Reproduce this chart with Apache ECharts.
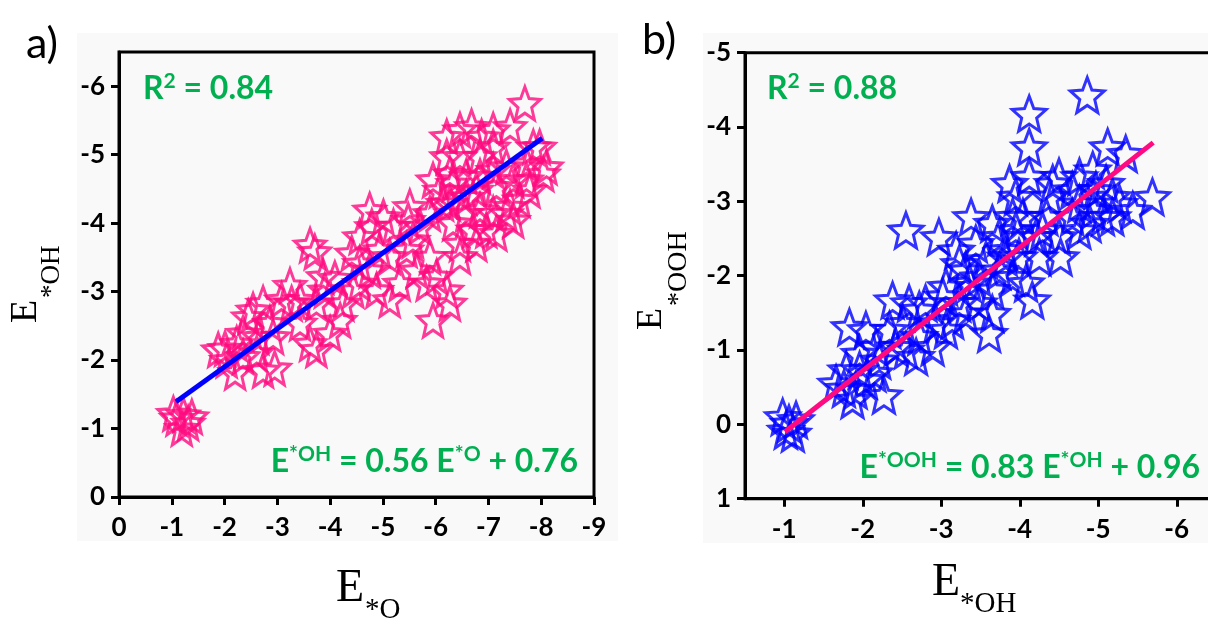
<!DOCTYPE html>
<html><head><meta charset="utf-8">
<script src="https://cdn.jsdelivr.net/npm/echarts@6/dist/echarts.min.js"></script>
<style>html,body{margin:0;padding:0;background:#fff}#c{width:1208px;height:619px}</style>
</head><body><div id="c"></div>
<script>
// ---------- data: panel a (E*O vs E*OH) ----------
const aO = [-1.09,-1.22,-1.38,-1.19,-1.31,-1.03,
 -2.01,-2.20,-2.35,-2.61,-2.73,-2.95,-2.45,-2.35,-2.73,-2.64,-2.92,-2.86,-3.24,-3.08,
 -3.27,-3.43,-3.43,-3.62,-3.74,-4.00,-3.74,-3.90,-4.09,-4.25,-4.19,-3.62,-3.71,-3.87,
 -4.41,-4.56,-4.75,-4.79,-5.01,-5.20,-5.51,-5.48,-5.45,-5.13,-4.75,-4.56,-4.88,-5.13,
 -5.32,-5.64,-5.89,-6.02,-6.21,-6.27,-5.95,-5.83,-5.70,-5.89,-6.14,-6.33,-6.46,-6.46,
 -6.71,-6.77,-6.96,-7.15,-7.34,-7.47,-7.09,-6.84,-6.58,-6.27,-6.08,-5.95,-6.33,-6.58,
 -4.94,-4.56,-4.44,-5.57,-6.21,-6.46,-6.68,-6.87,-7.09,-6.21,-6.46,-6.84,-7.09,-7.41,
 -7.69,-7.97,-8.04,-7.72,-7.72,-7.47,-7.34,-7.09,-6.84,-6.58,-6.27,-7.78,-7.59,-7.41,
 -7.85,-8.10,-7.15,-6.77,-1.88,-2.04,-2.23,-2.54];
const aOH = [-1.15,-1.20,-1.17,-1.00,-1.08,-1.22,
 -2.17,-1.82,-2.05,-2.10,-1.85,-1.88,-2.63,-2.39,-2.83,-2.34,-2.34,-2.54,-3.09,-2.88,
 -2.83,-2.88,-2.54,-2.24,-2.15,-2.39,-2.83,-3.02,-3.19,-2.83,-2.58,-3.68,-3.58,-3.22,
 -3.56,-3.80,-4.19,-3.95,-4.09,-3.95,-4.24,-4.04,-3.61,-3.51,-3.31,-3.12,-3.02,-2.88,
 -3.12,-3.31,-3.51,-3.22,-3.02,-2.83,-2.58,-3.12,-3.95,-4.14,-4.29,-4.00,-3.51,-3.70,
 -3.90,-3.70,-3.90,-3.85,-4.14,-4.04,-4.14,-4.19,-4.14,-4.29,-4.48,-4.63,-4.58,-4.38,
 -3.61,-3.41,-3.02,-3.75,-5.26,-5.36,-5.41,-5.26,-5.36,-4.97,-4.97,-4.97,-5.11,-5.41,
 -5.75,-5.11,-4.72,-4.63,-4.87,-4.63,-4.82,-4.77,-4.68,-4.68,-4.72,-4.48,-4.34,-4.24,
 -5.11,-4.82,-4.53,-4.48,-2.15,-2.00,-2.24,-2.73];
const aFitO = [-1.08, -8.02];
const aFitOH = [-1.39, -5.24];

// ---------- data: panel b (E*OH vs E*OOH) ----------
const bOH = [-0.98,-1.06,-1.11,-1.02,-1.15,
 -1.76,-1.91,-1.96,-2.04,-2.27,-2.15,-1.83,-2.04,-1.96,-2.17,-2.38,-2.59,-2.34,-2.51,-2.55,
 -2.68,-2.72,-2.89,-2.93,-2.80,-3.02,-3.14,-3.23,-3.61,-3.65,-3.36,-3.48,-3.65,-3.74,-3.91,
 -4.16,-4.08,-2.97,-3.19,-3.38,-2.55,-3.44,-3.57,-3.74,-3.82,-3.95,-4.04,-3.95,-3.87,-4.12,
 -4.12,-4.12,-4.86,-4.25,-4.21,-4.34,-4.38,-4.50,-4.52,-4.50,-4.67,-4.76,-4.93,-5.06,-5.27,
 -5.10,-4.93,-4.76,-5.12,-5.35,-5.18,-5.44,-5.69,-4.42,-4.29,-3.91,-3.65,-3.31,-3.23,-3.06,
 -2.72,-3.48,-3.82,-3.99,-4.67,-4.97,-4.89,-5.18,-4.76,-3.06,-3.31,-2.42,-2.21,-1.79,-1.66,-1.87];
const bOOH = [-0.10,-0.01,0.12,0.08,-0.06,
 -0.48,-0.46,-0.73,-0.60,-0.39,-0.69,-1.31,-1.27,-0.95,-1.04,-1.67,-1.63,-1.27,-1.36,-1.00,
 -0.91,-1.18,-1.04,-1.36,-1.63,-1.72,-1.40,-1.63,-1.22,-1.49,-1.90,-1.98,-1.81,-2.07,-1.98,
 -1.67,-1.90,-2.52,-2.34,-2.79,-2.61,-2.43,-2.21,-2.52,-2.34,-2.61,-2.79,-3.06,-3.24,-3.33,
 -3.73,-4.18,-4.43,-2.25,-2.52,-2.79,-3.06,-3.33,-2.25,-2.52,-2.79,-2.97,-2.88,-2.79,-2.97,
 -3.24,-3.42,-3.33,-3.73,-3.64,-3.06,-2.88,-3.06,-3.24,-2.61,-2.79,-2.70,-2.07,-2.16,-1.85,
 -1.54,-1.63,-2.25,-2.25,-3.15,-3.15,-2.70,-2.79,-2.61,-1.27,-1.49,-1.04,-0.86,-0.73,-0.55,-0.33];
const bFitOH = [-1.01, -5.70];
const bFitOOH = [0.10, -3.79];

// ---------- tick labels ----------
const aXTicks = [0,-1,-2,-3,-4,-5,-6,-7,-8,-9];
const aYTicks = [0,-1,-2,-3,-4,-5,-6];
const bXTicks = [-1,-2,-3,-4,-5,-6];
const bYTicks = [1,0,-1,-2,-3,-4,-5];

const zip = (xs, ys) => xs.map((x, i) => [x, ys[i]]);

function starPath(ratio) {
  let d = '';
  for (let k = 0; k < 10; k++) {
    const a = (-90 + 36 * k) * Math.PI / 180;
    const r = k % 2 ? ratio : 1;
    d += (k ? 'L' : 'M') + (r * Math.cos(a) * 50).toFixed(2) + ' ' + (r * Math.sin(a) * 50).toFixed(2) + ' ';
  }
  return 'path://' + d + 'Z';
}
const STAR = starPath(0.44);
const PINK = '#ff0a80', BLUE = '#0000ff', GREEN = '#00b050';
const LBL = { color: '#000', fontFamily: 'Lato', fontWeight: 'bold', fontSize: 26 };

function axis(min, max, ticks, isX) {
  return {
    type: 'value', min: min, max: max, inverse: true,
    axisLine: { show: true, onZero: false, lineStyle: { color: '#000', width: 3 } },
    axisTick: { show: true, inside: false, length: 8, lineStyle: { color: '#000', width: 3 }, customValues: ticks },
    axisLabel: Object.assign({ customValues: ticks, margin: isX ? 18 : 14 }, LBL),
    splitLine: { show: false }
  };
}

const chart = echarts.init(document.getElementById('c'), null, { renderer: 'canvas' });

function serifTitle(x, y, main, sub, fsMain, fsSub, subDx, subDy, rot) {
  return {
    type: 'group', x: x, y: y, rotation: rot || 0, z: 10,
    children: [
      { type: 'text', x: 0, y: -0.305 * fsMain,
        style: { text: main, fontFamily: 'Liberation Serif', fontSize: fsMain, fill: '#000', align: 'left', verticalAlign: 'middle' } },
      { type: 'text', x: subDx, y: subDy - 0.305 * fsSub,
        style: { text: sub, fontFamily: 'Liberation Serif', fontSize: fsSub, fill: '#000', align: 'left', verticalAlign: 'middle' } }
    ]
  };
}

function greenText(x, y, text, align) {
  return {
    type: 'text', x: x, y: y, z: 10,
    style: {
      text: text, fill: GREEN, fontFamily: 'Lato', fontWeight: 'bold', fontSize: 32, lineHeight: 36,
      align: align, verticalAlign: 'middle',
      rich: { s: { fontFamily: 'Lato', fontWeight: 'bold', fontSize: 21, fill: GREEN, verticalAlign: 'top' } }
    }
  };
}

chart.setOption({
  animation: false,
  backgroundColor: '#ffffff',
  grid: [
    { left: 119, top: 52, width: 475, height: 445, show: true, borderColor: '#000', borderWidth: 3, backgroundColor: 'transparent', containLabel: false, outerBoundsMode: 'none' },
    { left: 745, top: 52.7, width: 471, height: 446, show: true, borderColor: '#000', borderWidth: 3, backgroundColor: 'transparent', containLabel: false, outerBoundsMode: 'none' }
  ],
  xAxis: [
    Object.assign(axis(-9, 0, aXTicks, true), { gridIndex: 0, interval: 1 }),
    Object.assign(axis(-6.5, -0.5, bXTicks, true), { gridIndex: 1 })
  ],
  yAxis: [
    Object.assign(axis(-6.5, 0, aYTicks, false), { gridIndex: 0 }),
    Object.assign(axis(-5, 1, bYTicks, false), { gridIndex: 1, interval: 1 })
  ],
  series: [
    { type: 'scatter', xAxisIndex: 0, yAxisIndex: 0, data: zip(aO, aOH), symbol: STAR, symbolSize: [31, 33],
      itemStyle: { color: 'rgba(0,0,0,0)', borderColor: PINK, borderWidth: 3, borderJoin: 'miter', borderMiterLimit: 4 },
      emphasis: { disabled: true }, silent: true, z: 2 },
    { type: 'line', xAxisIndex: 0, yAxisIndex: 0, data: zip(aFitO, aFitOH), symbol: 'none',
      lineStyle: { color: BLUE, width: 5 }, silent: true, z: 3 },
    { type: 'scatter', xAxisIndex: 1, yAxisIndex: 1, data: zip(bOH, bOOH), symbol: STAR, symbolSize: [34, 35],
      itemStyle: { color: 'rgba(0,0,0,0)', borderColor: BLUE, borderWidth: 3, borderJoin: 'miter', borderMiterLimit: 4 },
      emphasis: { disabled: true }, silent: true, z: 2 },
    { type: 'line', xAxisIndex: 1, yAxisIndex: 1, data: zip(bFitOH, bFitOOH), symbol: 'none',
      lineStyle: { color: PINK, width: 5 }, silent: true, z: 3 }
  ],
  graphic: [
    { type: 'rect', z: -10, shape: { x: 77, y: 33, width: 541, height: 508 }, style: { fill: '#f9f9f9' } },
    { type: 'rect', z: -10, shape: { x: 703, y: 33, width: 505, height: 510 }, style: { fill: '#f9f9f9' } },
    { type: 'text', x: 26, y: 44, z: 10, style: { text: 'a)', fontFamily: 'Lato', fontSize: 43, fill: '#000', align: 'left', verticalAlign: 'middle' } },
    { type: 'text', x: 642, y: 40, z: 10, style: { text: 'b)', fontFamily: 'Lato', fontSize: 43, fill: '#000', align: 'left', verticalAlign: 'middle' } },
    greenText(143, 89, 'R{s|2} = 0.84', 'left'),
    greenText(767, 89, 'R{s|2} = 0.88', 'left'),
    greenText(578, 462, 'E{s|*OH} = 0.56 E{s|*O} + 0.76', 'right'),
    greenText(1200, 468, 'E{s|*OOH} = 0.83 E{s|*OH} + 0.96', 'right'),
    serifTitle(336, 603, 'E', '*O', 46, 29, 29, 16, 0),
    serifTitle(932, 597, 'E', '*OH', 46, 29, 28, 16, 0),
    serifTitle(38, 323, 'E', '*OH', 38, 27, 25, 22, Math.PI / 2),
    serifTitle(663, 330, 'E', '*OOH', 36, 28, 24, 24, Math.PI / 2)
  ]
});
</script>
</body></html>
